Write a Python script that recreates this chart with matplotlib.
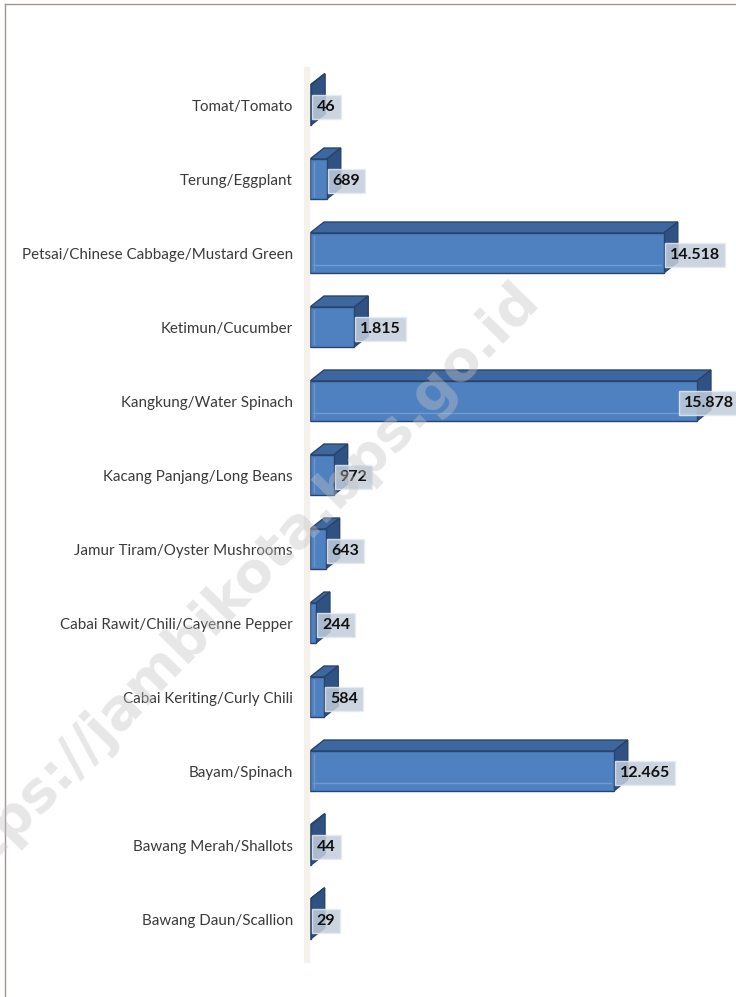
import matplotlib.pyplot as plt
from matplotlib.patches import Polygon
from matplotlib.lines import Line2D
from matplotlib.patches import Rectangle

categories = [
    "Tomat/Tomato",
    "Terung/Eggplant",
    "Petsai/Chinese Cabbage/Mustard Green",
    "Ketimun/Cucumber",
    "Kangkung/Water Spinach",
    "Kacang Panjang/Long Beans",
    "Jamur Tiram/Oyster Mushrooms",
    "Cabai Rawit/Chili/Cayenne Pepper",
    "Cabai Keriting/Curly Chili",
    "Bayam/Spinach",
    "Bawang Merah/Shallots",
    "Bawang Daun/Scallion",
]
values = [46, 689, 14518, 1815, 15878, 972, 643, 244, 584, 12465, 44, 29]
value_labels = ["46", "689", "14.518", "1.815", "15.878", "972", "643",
                "244", "584", "12.465", "44", "29"]

W, H = 736, 997
fig = plt.figure(figsize=(W / 100, H / 100), dpi=100)
fig.patch.set_facecolor("white")

# axes in pixel terms: bars start at x=310, rows 74px apart
ax_left, ax_right = 310, 736
row_px = 74
top_px = 105 - row_px / 2
n = len(categories)
xmax = 17480
px = xmax / (ax_right - ax_left)  # data units per pixel
ax = fig.add_axes([ax_left / W, 1 - (top_px + n * row_px) / H,
                   (ax_right - ax_left) / W, n * row_px / H])
ax.set_xlim(0, xmax)
ax.set_ylim(n - 0.5, -0.5)
ax.axis("off")
ax.patch.set_alpha(0)

# depth of the 3D effect
dx = 14 * px
dy = 11 / row_px
bh = 0.54

front = "#4f80c0"
top_c = "#3f679f"
side_c = "#2f5283"
edge = "#28446c"

ypos = list(range(n))
# faint 3D wall strip
fig.patches.append(Rectangle((304 / W, 1 - 962 / H), 5 / W, 895 / H,
                             transform=fig.transFigure, color="#f4f0ea",
                             zorder=0))

ax.barh(ypos, values, height=bh, color=front, edgecolor=edge, linewidth=1,
        zorder=3)
for y, v in zip(ypos, values):
    y0, y1 = y + bh / 2, y - bh / 2
    # top face
    ax.add_patch(Polygon([(0, y1), (v, y1), (v + dx, y1 - dy), (dx, y1 - dy)],
                         closed=True, facecolor=top_c, edgecolor=edge,
                         linewidth=1, zorder=2))
    # side face
    ax.add_patch(Polygon([(v, y1), (v + dx, y1 - dy), (v + dx, y0 - dy), (v, y0)],
                         closed=True, facecolor=side_c, edgecolor=edge,
                         linewidth=1, zorder=2))
    # subtle highlight lines on front
    if v > 2000:
        ax.plot([3 * px, v - 3 * px], [y + bh * 0.30, y + bh * 0.30],
                color="#6f9ad3", lw=1, zorder=4)
    if v > 500:
        ax.plot([4 * px, 4 * px], [y - bh * 0.42, y + bh * 0.42],
                color="#6a96d0", lw=1, zorder=4)

for y, v, lab in zip(ypos, values, value_labels):
    x = v + 6 * px
    ha = "left"
    if x + 55 * px > xmax:
        x, ha = xmax - 2 * px, "right"
    ax.text(x, y + 0.03, lab, ha=ha, va="center", fontsize=11.5,
            fontweight="bold", family="Lato", color="#111111", zorder=6,
            clip_on=False,
            bbox=dict(boxstyle="square,pad=0.3", facecolor="#c3cddb",
                      edgecolor="#e4ecf4", alpha=0.85, linewidth=1))

for y, cat in zip(ypos, categories):
    ax.text(-17 * px, y + 0.03, cat, ha="right",
            va="center", fontsize=10.9, family="Lato", color="#3a3a3a",
            clip_on=False)

# watermark
fig.text(232 / W, 1 - 594 / H, "https://jambikota.bps.go.id", rotation=45.5,
         ha="center", va="center", fontsize=40, fontweight="bold",
         family="DejaVu Sans", color="#c4c4c4", alpha=0.4, zorder=10)

# border
fig.lines.append(Line2D([5 / W, 1], [1 - 4 / H, 1 - 4 / H],
                        transform=fig.transFigure, color="#a3958f", lw=1))
fig.lines.append(Line2D([5 / W, 5 / W], [0, 1 - 4 / H],
                        transform=fig.transFigure, color="#a3958f", lw=1))

fig.savefig("out.png", dpi=100)
